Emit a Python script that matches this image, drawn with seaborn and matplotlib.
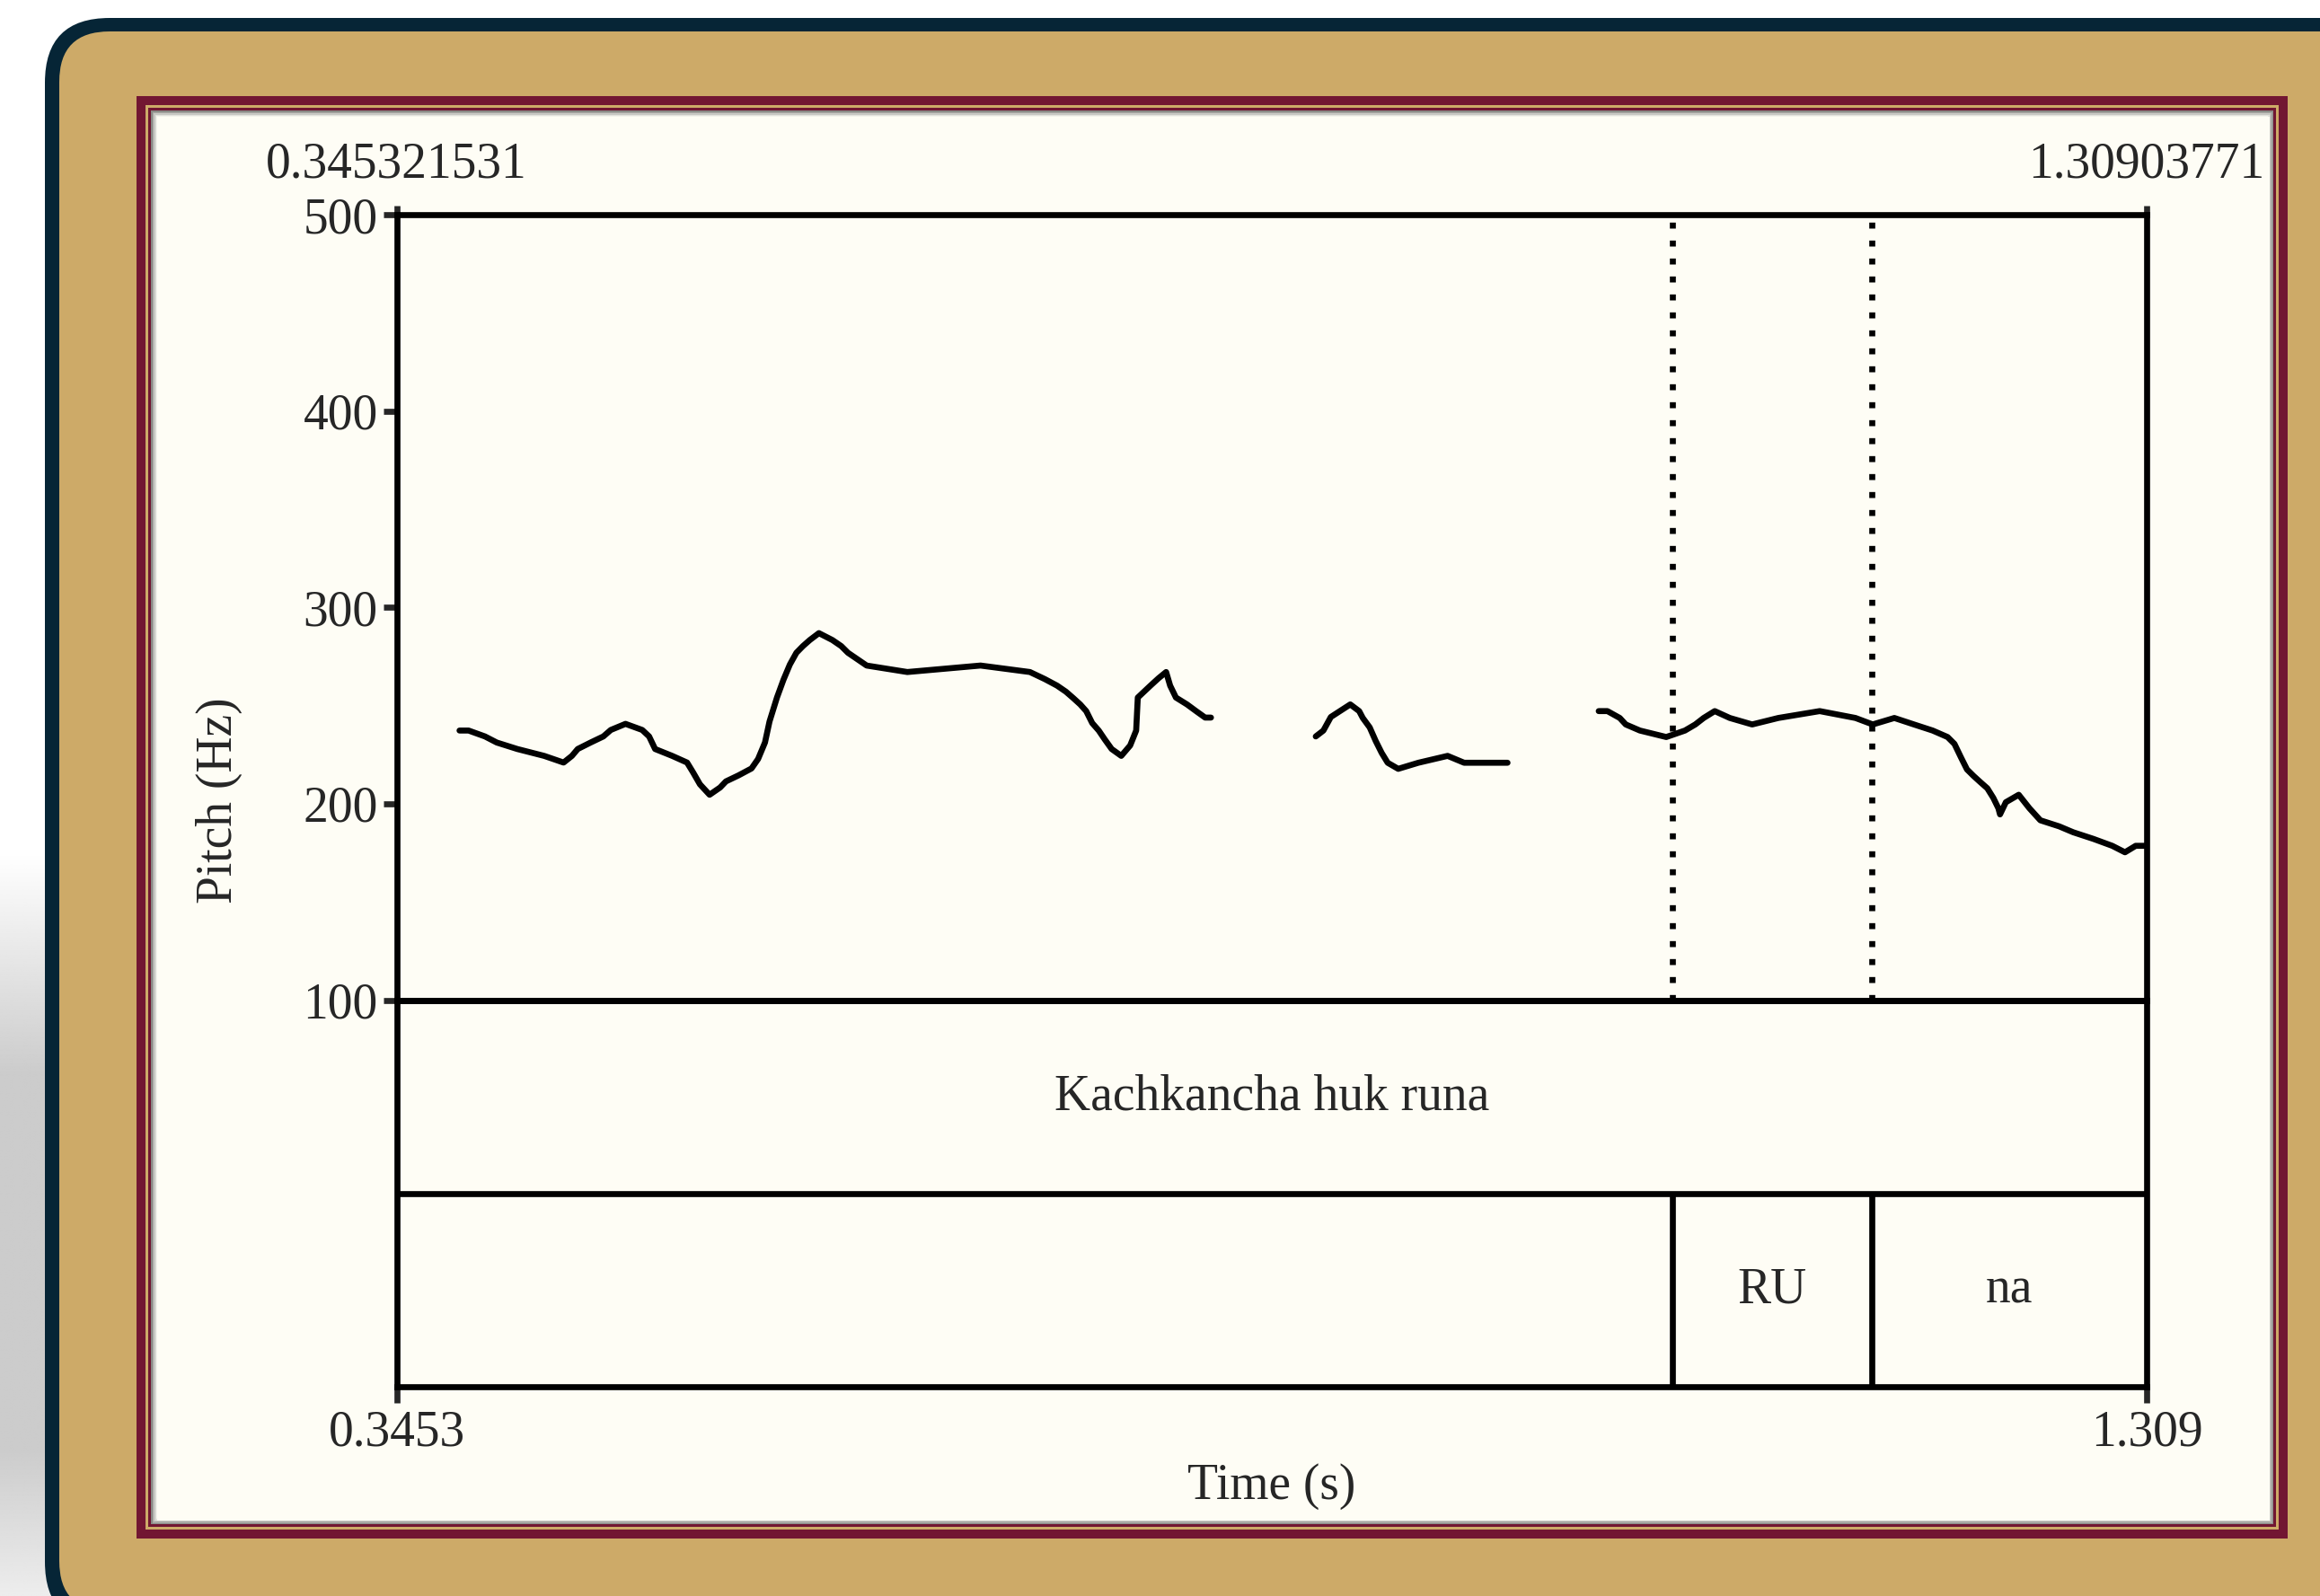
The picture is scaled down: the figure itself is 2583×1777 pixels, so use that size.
import numpy as np
import pandas as pd
import matplotlib
matplotlib.use("Agg")
import matplotlib.pyplot as plt
from matplotlib.patches import FancyBboxPatch, Rectangle
import seaborn as sns

# ---------------- data ----------------
t_start = 0.345321531
t_end = 1.30903771
top_labels = ["0.345321531", "1.30903771"]
bottom_labels = ["0.3453", "1.309"]
y_ticks = [100, 200, 300, 400, 500]
y_ticklabels = ["100", "200", "300", "400", "500"]

seg1_time = [0.3800, 0.3850, 0.3940, 0.4005, 0.4118, 0.4266, 0.4373, 0.4419, 0.4451, 0.4522,
             0.4592, 0.4633, 0.4714, 0.4806, 0.4844, 0.4877, 0.4971, 0.5053, 0.5086, 0.5124,
             0.5177, 0.5235, 0.5267, 0.5337, 0.5408, 0.5444, 0.5482, 0.5507, 0.5548, 0.5584,
             0.5619, 0.5655, 0.5691, 0.5729, 0.5779, 0.5853, 0.5902, 0.5939, 0.5985, 0.6042,
             0.6266, 0.6669, 0.6941, 0.7023, 0.7090, 0.7139, 0.7180, 0.7218, 0.7251, 0.7284,
             0.7320, 0.7353, 0.7391, 0.7444, 0.7493, 0.7526, 0.7535, 0.7605, 0.7650, 0.7691,
             0.7713, 0.7745, 0.7806, 0.7856, 0.7906, 0.7938]
seg1_pitch = [237.3, 237.3, 234.3, 231.2, 227.9, 224.4, 221.0, 224.4, 227.9, 231.2,
              234.3, 237.6, 240.7, 237.6, 234.3, 227.9, 224.4, 221.0, 216.0, 209.9,
              204.6, 208.3, 211.4, 214.5, 218.0, 222.8, 231.2, 241.9, 254.1, 263.2,
              270.9, 276.9, 280.3, 283.4, 286.9, 283.4, 280.3, 276.9, 274.0, 270.4,
              267.1, 270.4, 267.1, 263.5, 260.2, 257.1, 253.8, 250.6, 247.2, 241.1,
              237.3, 232.8, 227.9, 224.4, 229.7, 237.3, 254.1, 260.2, 264.0, 267.1,
              260.2, 254.1, 250.6, 247.2, 243.9, 243.9]

seg2_time = [0.8515, 0.8557, 0.8598, 0.8648, 0.8705, 0.8754, 0.8774, 0.8812, 0.8845, 0.8878,
             0.8911, 0.8969, 0.9080, 0.9241, 0.9332, 0.9571]
seg2_pitch = [234.3, 237.3, 244.2, 247.2, 250.6, 247.2, 243.7, 238.9, 232.0, 225.9,
              220.9, 217.8, 220.9, 224.4, 220.9, 220.9]

seg3_time = [1.0073, 1.0121, 1.0189, 1.0222, 1.0300, 1.0445, 1.0548, 1.0605, 1.0651, 1.0712,
             1.0795, 1.0918, 1.1062, 1.1290, 1.1487, 1.1582, 1.1701, 1.1809, 1.1912, 1.1994,
             1.2032, 1.2068, 1.2101, 1.2137, 1.2175, 1.2213, 1.2246, 1.2274, 1.2283, 1.2315,
             1.2386, 1.2445, 1.2505, 1.2609, 1.2686, 1.2798, 1.2901, 1.2971, 1.3030, 1.3091]
seg3_pitch = [247.2, 247.2, 243.7, 240.4, 237.3, 234.0, 237.3, 240.4, 243.7, 247.2,
              243.7, 240.4, 243.7, 247.2, 243.7, 240.4, 243.7, 240.4, 237.3, 234.0,
              230.5, 223.6, 217.5, 214.2, 211.0, 207.9, 203.0, 197.7, 194.6, 200.8,
              204.6, 197.7, 191.6, 188.5, 185.5, 182.1, 178.6, 175.3, 178.6, 178.6]

tier1_text = "Kachkancha huk runa"
tier2_bounds = [1.04775, 1.15745]
tier2_labels = ["RU", "na"]

# ---------------- style ----------------
sns.set_style("white")
plt.rcParams["font.family"] = ["Liberation Serif", "DejaVu Serif"]
plt.rcParams["font.size"] = 40

W, H = 2583, 1777
fig = plt.figure(figsize=(W / 100, H / 100), dpi=100)
fig.patch.set_facecolor("white")

NAVY = "#062536"
GOLD = "#cdaa68"
CRIMSON = "#721632"
CREAM = "#fefdf5"
LW = 4.8

# background frame in pixel coordinates
bg = fig.add_axes([0, 0, 1, 1], zorder=-10)
bg.set_xlim(0, W)
bg.set_ylim(H, 0)
bg.axis("off")

# soft grey shadow at the left
grad = np.zeros((200, 1, 4))
a = np.concatenate([np.linspace(0, 1, 60), np.ones(100), np.linspace(1, 0.35, 40)])
grad[:, 0, :3] = 0.80
grad[:, 0, 3] = a
bg.imshow(grad, extent=[0, 60, H, 950], aspect="auto", zorder=0, interpolation="bilinear")

bg.add_patch(FancyBboxPatch((50, 20), W + 100, 1811 - 20,
                            boxstyle="round,pad=0,rounding_size=72",
                            fc=NAVY, ec="none", zorder=1))
bg.add_patch(FancyBboxPatch((66, 35), W + 100, 1794 - 35,
                            boxstyle="round,pad=0,rounding_size=56",
                            fc=GOLD, ec="none", zorder=2))
bg.add_patch(Rectangle((152, 107), 2547 - 152, 1713 - 107, fc=CRIMSON, ec="none", zorder=3))
bg.add_patch(Rectangle((162, 117), 2537 - 162, 1703 - 117, fc=GOLD, ec="none", zorder=4))
bg.add_patch(Rectangle((165, 120), 2534 - 165, 1700 - 120, fc=CRIMSON, ec="none", zorder=5))
bg.add_patch(Rectangle((168, 123), 2531 - 168, 1697 - 123, fc="#8a8a86", ec="none", zorder=6))
for i, c in enumerate(["#a9a9a5", "#c8c8c3", "#e2e2dc", "#f3f3ec"]):
    d = 1.5 * (i + 1)
    bg.add_patch(Rectangle((168 + d, 123 + d), 2531 - 168 - 2 * d, 1697 - 123 - 2 * d,
                           fc=c, ec="none", zorder=7 + i))
bg.add_patch(Rectangle((175, 130), 2531 - 175 - 4, 1697 - 130 - 4, fc=CREAM, ec="none", zorder=12))

# ---------------- pitch axes ----------------
L, R = 441.5, 2390.0
T, B100, BT = 239.0, 1113.6, 1543.5
ax = fig.add_axes([L / W, 1 - B100 / H, (R - L) / W, (B100 - T) / H])
ax.set_facecolor("none")

df = pd.DataFrame({
    "time": seg1_time + seg2_time + seg3_time,
    "pitch": seg1_pitch + seg2_pitch + seg3_pitch,
    "segment": [1] * len(seg1_time) + [2] * len(seg2_time) + [3] * len(seg3_time),
})
sns.lineplot(data=df, x="time", y="pitch", units="segment", estimator=None, sort=False,
             color="black", lw=LW, ax=ax, legend=False)

for b in tier2_bounds:
    ax.axvline(b, color="black", lw=LW, ls=(0, (1, 2)))

ax.set_xlim(t_start, t_end)
ax.set_ylim(100, 500)
ax.set_yticks(y_ticks)
ax.set_yticklabels(y_ticklabels)
ax.xaxis.tick_top()
ax.set_xticks([t_start, t_end])
ax.set_xticklabels(top_labels)
ax.tick_params(axis="y", direction="out", length=11, width=LW, pad=4, left=True, right=False)
ax.tick_params(axis="x", direction="out", length=7, width=LW, pad=14, top=True, bottom=False)
ax.set_xlabel("")
ax.set_ylabel("Pitch (Hz)")
ax.yaxis.label.set_verticalalignment("center")
ax.yaxis.set_label_coords((244 - L) / (R - L), (B100 - 891) / (B100 - T))
for s in ax.spines.values():
    s.set_visible(True)
    s.set_linewidth(LW)
    s.set_color("black")
    s.set_capstyle("projecting")

# ---------------- tier axes ----------------
ax2 = fig.add_axes([L / W, 1 - BT / H, (R - L) / W, (BT - B100) / H])
ax2.set_facecolor("none")
ax2.set_xlim(t_start, t_end)
ax2.set_ylim(0, 2)
ax2.axhline(1, color="black", lw=LW)
ax2.vlines(tier2_bounds, 0, 1, color="black", lw=LW)
ax2.text((t_start + t_end) / 2, 1.5, tier1_text, ha="center", va="center")
edges = tier2_bounds + [t_end]
for i, lab in enumerate(tier2_labels):
    ax2.text((edges[i] + edges[i + 1]) / 2, 0.5, lab, ha="center", va="center")
ax2.set_yticks([])
ax2.set_xticks([t_start, t_end])
ax2.set_xticklabels(bottom_labels)
ax2.tick_params(axis="x", direction="out", length=13, width=LW, pad=6, bottom=True, top=False)
ax2.set_xlabel("Time (s)")
ax2.xaxis.label.set_verticalalignment("center")
ax2.xaxis.set_label_coords(0.5, (BT - 1655) / (BT - B100))
for s in ax2.spines.values():
    s.set_visible(True)
    s.set_linewidth(LW)
    s.set_color("black")
    s.set_capstyle("projecting")

fig.savefig("out.png", dpi=100, facecolor=fig.get_facecolor())
